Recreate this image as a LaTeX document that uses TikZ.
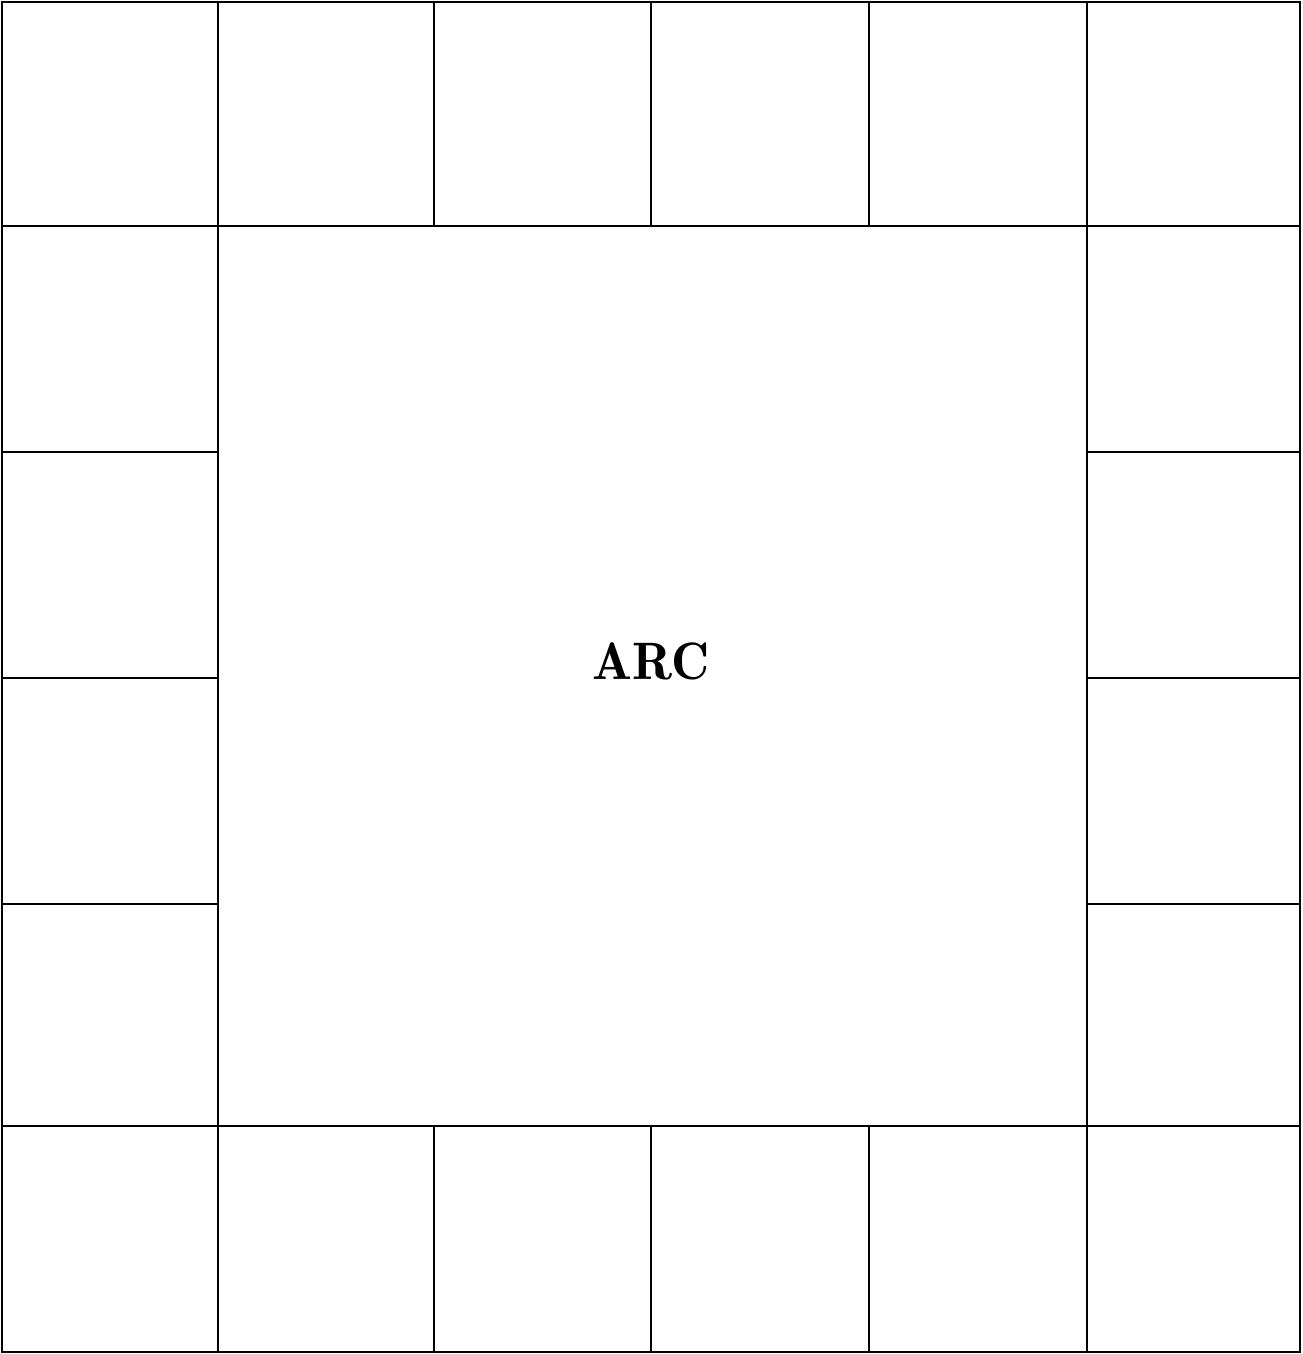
\documentclass[tikz,border=0pt]{standalone}
\usepackage{tikz}
\usetikzlibrary{positioning}
\tikzset{
  gridline/.style={draw=black, line width=0.8pt},
  arclabel/.style={font=\fontsize{15}{18}\fontseries{b}\selectfont}
}
\begin{document}
\begin{tikzpicture}
  \useasboundingbox (0,0) rectangle (13.02,13.54);
  % Outer frame and row breaks
  \draw[gridline] (0.02,0.02) rectangle (13.00,13.52);
  \draw[gridline] (0.02,11.28) -- (13.00,11.28);
  \draw[gridline] (0.02,2.28) -- (13.00,2.28);
  % Centre square sides
  \draw[gridline] (2.18,2.28) -- (2.18,11.28);
  \draw[gridline] (10.87,2.28) -- (10.87,11.28);
  % Top and bottom cells
  \foreach \x in {2.18,4.34,6.51,8.69,10.87} {
    \draw[gridline] (\x,11.28) -- (\x,13.52);
    \draw[gridline] (\x,0.02) -- (\x,2.28);
  }
  % Side cells
  \foreach \y in {9.02,6.76,4.50} {
    \draw[gridline] (0.02,\y) -- (2.18,\y);
    \draw[gridline] (10.87,\y) -- (13.00,\y);
  }
  \node[arclabel] (arc) at (6.51,6.93) {ARC};
\end{tikzpicture}
\end{document}
